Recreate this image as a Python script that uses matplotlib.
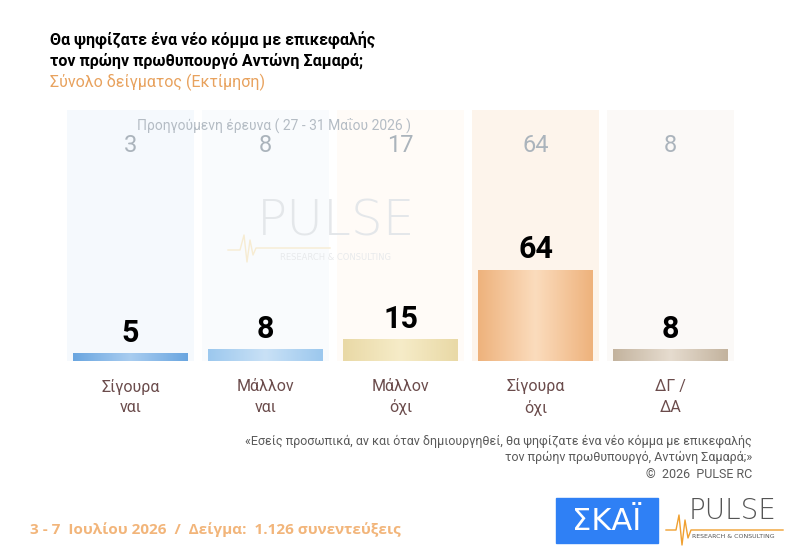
import numpy as np
import matplotlib
matplotlib.use("Agg")
import matplotlib.pyplot as plt
from matplotlib.patches import Rectangle
from matplotlib.colors import LinearSegmentedColormap

categories = ["Σίγουρα\nναι", "Μάλλον\nναι", "Μάλλον\nόχι", "Σίγουρα\nόχι", "ΔΓ /\nΔΑ"]
current = [5, 8, 15, 64, 8]
previous = [3, 8, 17, 64, 8]

bar_edge = ["#6aa6e0", "#9cc8ee", "#e9d9a6", "#eeb27c", "#c3b39e"]
bar_mid = ["#a9cdf0", "#c9e1f6", "#f6ecc8", "#fbdcbd", "#e6dccf"]
col_bg = ["#f5f9fd", "#f9fbfd", "#fffbf7", "#fdf4eb", "#fbf9f7"]

W, H = 798, 555
fig = plt.figure(figsize=(W / 100, H / 100), dpi=100)
fig.patch.set_facecolor("white")

# overlay axes in pixel coordinates for text
ov = fig.add_axes([0, 0, 1, 1], zorder=5)
ov.set_xlim(0, W)
ov.set_ylim(H, 0)
ov.axis("off")
ov.patch.set_alpha(0)

# bar axes
left, right, top, base = 63, 738, 110, 361
ax = fig.add_axes([left / W, 1 - base / H, (right - left) / W, (base - top) / H], zorder=2)
ppu = 91 / 64.0
ymax = (base - top) / ppu
ax.axis("off")
ax.patch.set_alpha(0)

x = np.arange(len(categories))
# background columns
ax.bar(x, [ymax] * len(x), width=0.94, color=col_bg, zorder=0)

bw = 0.85
for i, v in enumerate(current):
    cmap = LinearSegmentedColormap.from_list("g", [bar_edge[i], bar_mid[i], bar_edge[i]])
    grad = np.linspace(0, 1, 200)[None, :]
    ax.imshow(grad, cmap=cmap, aspect="auto",
              extent=(x[i] - bw / 2, x[i] + bw / 2, 0, v), zorder=2)
    ax.text(x[i], v + 12 / ppu, str(v), ha="center", va="baseline", fontsize=22,
            fontweight="bold", family="Roboto", color="black", zorder=4)
    ax.text(x[i], ymax - 36 / ppu, str(previous[i]), ha="center", va="center",
            fontsize=17, family="Roboto", color="#abb4bc", zorder=4)
    ax.text(x[i], -36 / ppu, categories[i], ha="center", va="center", fontsize=11.5,
            family="Roboto", color="#6b4c4c", linespacing=1.45, clip_on=False)
ax.set_xlim(-0.5, 4.5)
ax.set_ylim(0, ymax)

# watermark
ov.text(336, 222, "PULSE", ha="center", va="center", fontsize=36, color="#e4e7ea",
        family="DejaVu Sans", fontweight="light", zorder=1)
ov.text(336, 257, "RESEARCH & CONSULTING", ha="center", va="center", fontsize=6,
        color="#e8eaec", family="DejaVu Sans")
ov.plot([228, 240, 244, 247, 250, 253, 256, 330], [250, 250, 235, 262, 240, 255, 248, 248],
        color="#f7ecd2", lw=1)

# titles
ov.text(50, 40, "Θα ψηφίζατε ένα νέο κόμμα με επικεφαλής", ha="left", va="center",
        fontsize=11.5, fontweight="bold", family="Roboto", color="black")
ov.text(50, 61, "τον πρώην πρωθυπουργό Αντώνη Σαμαρά;", ha="left", va="center",
        fontsize=11.5, fontweight="bold", family="Roboto", color="black")
ov.text(50, 82, "Σύνολο δείγματος (Εκτίμηση)", ha="left", va="center",
        fontsize=11.5, family="Roboto", color="#e8a25e")
ov.text(137, 125, "Προηγούμενη έρευνα ( 27 - 31 Μαΐου 2026 )", ha="left", va="center",
        fontsize=10, family="Roboto", color="#b4bcc4")

# footnote
foot = ["«Εσείς προσωπικά, αν και όταν δημιουργηθεί, θα ψηφίζατε ένα νέο κόμμα με επικεφαλής",
        "τον πρώην πρωθυπουργό, Αντώνη Σαμαρά;»",
        "©  2026  PULSE RC"]
for j, t in enumerate(foot):
    ov.text(752, 441 + j * 16.5, t, ha="right", va="center", fontsize=9,
            family="Roboto", color="#5a5a5a")

ov.text(30, 530, "3 - 7  Ιουλίου 2026  /  Δείγμα:  1.126 συνεντεύξεις", ha="left",
        va="center", fontsize=11, fontweight="bold", family="Open Sans", color="#f2b57a")

# logos
ov.add_patch(Rectangle((556, 498), 102, 45, color="#2f80f5", zorder=6))
ov.text(607, 521, "ΣΚΑΪ", ha="center", va="center", fontsize=22, color="white",
        family="DejaVu Sans", zorder=7)
ov.text(733, 511, "PULSE", ha="center", va="center", fontsize=20, color="#555555",
        family="DejaVu Sans", fontweight="light", zorder=7)
ov.text(733, 537, "RESEARCH & CONSULTING", ha="center", va="center", fontsize=4.5,
        color="#555555", family="DejaVu Sans", zorder=7)
ov.plot([666, 676, 679, 682, 685, 688, 691, 783], [530, 530, 515, 545, 520, 538, 530, 530],
        color="#f0a030", lw=1, zorder=7)

fig.savefig("out.png", dpi=100)
